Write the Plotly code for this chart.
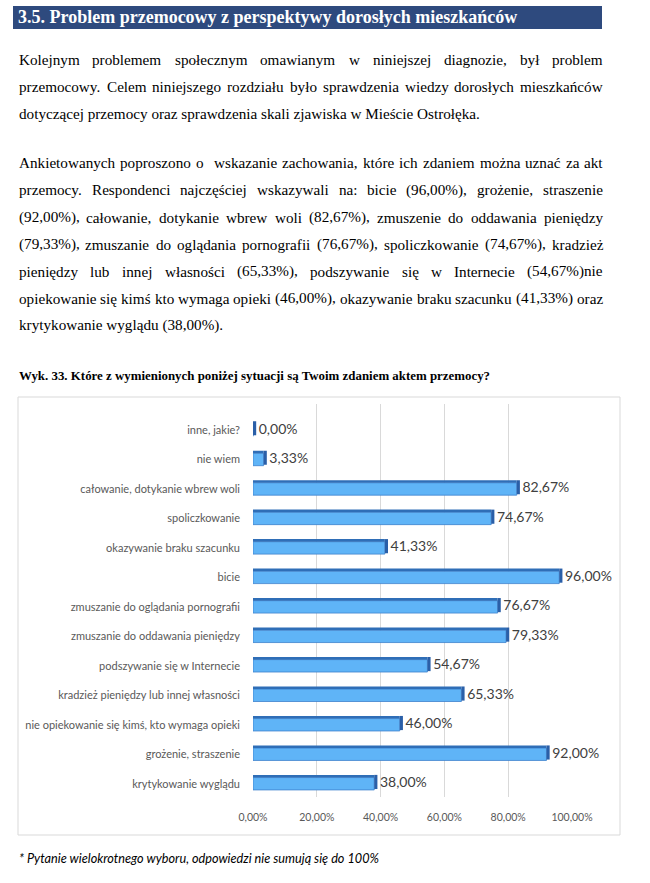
import plotly.graph_objects as go

W, H = 650, 883

# ---------------- data ----------------
categories = [
    "inne, jakie?",
    "nie wiem",
    "całowanie, dotykanie wbrew woli",
    "spoliczkowanie",
    "okazywanie braku szacunku",
    "bicie",
    "zmuszanie do oglądania pornografii",
    "zmuszanie do oddawania pieniędzy",
    "podszywanie się w Internecie",
    "kradzież pieniędzy lub innej własności",
    "nie opiekowanie się kimś, kto wymaga opieki",
    "grożenie, straszenie",
    "krytykowanie wyglądu",
]
values = [0.00, 3.33, 82.67, 74.67, 41.33, 96.00, 76.67, 79.33, 54.67, 65.33, 46.00, 92.00, 38.00]
tick_values = [0, 20, 40, 60, 80, 100]
tick_labels = ["0,00%", "20,00%", "40,00%", "60,00%", "80,00%", "100,00%"]

heading = "3.5. Problem przemocowy z perspektywy dorosłych mieszkańców"
para1 = [
    "Kolejnym problemem społecznym omawianym w niniejszej diagnozie, był problem",
    "przemocowy. Celem niniejszego rozdziału było sprawdzenia wiedzy dorosłych mieszkańców",
    "dotyczącej przemocy oraz sprawdzenia skali zjawiska w Mieście Ostrołęka.",
]
para2 = [
    "Ankietowanych poproszono o  wskazanie zachowania, które ich zdaniem można uznać za akt",
    "przemocy. Respondenci najczęściej wskazywali na: bicie (96,00%), grożenie, straszenie",
    "(92,00%), całowanie, dotykanie wbrew woli (82,67%), zmuszenie do oddawania pieniędzy",
    "(79,33%), zmuszanie do oglądania pornografii (76,67%), spoliczkowanie (74,67%), kradzież",
    "pieniędzy lub innej własności (65,33%), podszywanie się w Internecie (54,67%)nie",
    "opiekowanie się kimś kto wymaga opieki (46,00%), okazywanie braku szacunku (41,33%) oraz",
    "krytykowanie wyglądu (38,00%).",
]
chart_title = "Wyk. 33. Które z wymienionych poniżej sytuacji są Twoim zdaniem aktem przemocy?"
footnote = "* Pytanie wielokrotnego wyboru, odpowiedzi nie sumują się do 100%"

value_labels = [f"{v:.2f}".replace(".", ",") + "%" for v in values]

# ---------------- helpers ----------------
def px(x):
    return x / W


def py(y):
    return 1 - y / H


TIMES = {
    " ": 250, "%": 833, "(": 333, ")": 333, ",": 250, ".": 250, ":": 278,
    "a": 444, "b": 500, "c": 444, "d": 500, "e": 444, "f": 333, "g": 500, "h": 500,
    "i": 278, "j": 278, "k": 500, "l": 278, "m": 778, "n": 500, "o": 500, "p": 500,
    "q": 500, "r": 333, "s": 389, "t": 278, "u": 500, "v": 500, "w": 722, "x": 500,
    "y": 500, "z": 444, "ą": 444, "ć": 444, "ę": 444, "ł": 278, "ń": 500, "ó": 500,
    "ś": 389, "ź": 444, "ż": 444,
    "A": 722, "B": 667, "C": 667, "D": 722, "E": 611, "F": 556, "G": 722, "H": 722,
    "I": 333, "J": 389, "K": 722, "L": 611, "M": 889, "N": 722, "O": 722, "P": 556,
    "R": 667, "S": 556, "T": 611, "W": 944, "Z": 611,
}


def text_width(s, size):
    return sum(TIMES.get(ch, 500) for ch in s) / 1000.0 * size


SERIF = "Liberation Serif, Times New Roman, serif"
BODY_FONT = dict(family=SERIF, size=15.2, color="#000000")
annotations = []


def add_line(line, y, x0=17.5, x1=602.0, justify=True):
    if not justify:
        annotations.append(dict(text=line, x=px(x0), y=py(y), xref="paper", yref="paper",
                                xanchor="left", yanchor="middle", showarrow=False,
                                borderpad=0, font=BODY_FONT))
        return
    words = line.split(" ")
    widths = [text_width(w, BODY_FONT["size"]) for w in words]
    gap = (x1 - x0 - sum(widths)) / (len(words) - 1)
    x = x0
    for w, wd in zip(words, widths):
        if w:
            annotations.append(dict(text=w, x=px(x), y=py(y), xref="paper", yref="paper",
                                    xanchor="left", yanchor="middle", showarrow=False,
                                    borderpad=0, font=BODY_FONT))
        x += wd + gap


for i, line in enumerate(para1):
    add_line(line, 60 + 26.8 * i, justify=(i < len(para1) - 1))
for i, line in enumerate(para2):
    add_line(line, 163 + 27 * i, justify=(i < len(para2) - 1))

# heading text
annotations.append(dict(text="<b>" + heading + "</b>", x=px(17), y=py(17.5), xref="paper", yref="paper",
                        xanchor="left", yanchor="middle", showarrow=False, borderpad=0,
                        font=dict(family=SERIF, size=18, color="#FFFFFF")))
# chart title
annotations.append(dict(text="<b>" + chart_title + "</b>", x=px(17.5), y=py(376), xref="paper", yref="paper",
                        xanchor="left", yanchor="middle", showarrow=False, borderpad=0,
                        font=dict(family=SERIF, size=12.9, color="#000000")))
# footnote
annotations.append(dict(text="<i>" + footnote + "</i>", x=px(17.5), y=py(858), xref="paper", yref="paper",
                        xanchor="left", yanchor="middle", showarrow=False, borderpad=0,
                        font=dict(family="Lato", size=12.7, color="#000000")))

# ---------------- bars ----------------
n = len(values)
cap = 1.0
face = go.Bar(y=categories, x=values, orientation="h", width=0.42, offset=-0.21,
              marker=dict(color="#5FB4F7", line=dict(color="#3D82CD", width=0.8)),
              hoverinfo="skip")
top = go.Bar(y=categories, x=values, orientation="h", width=0.09, offset=-0.30,
             marker=dict(color="#2F6EB7", line=dict(width=0)), hoverinfo="skip")
right_cap = go.Bar(y=categories, x=[cap] * n, base=values, orientation="h", width=0.48, offset=-0.30,
                   marker=dict(color="#2A5FA8", line=dict(width=0)), hoverinfo="skip")
labels = go.Scatter(y=categories, x=[v + cap + 0.8 for v in values], mode="text", text=value_labels,
                    textposition="middle right", cliponaxis=False,
                    textfont=dict(family="Lato", size=14, color="#404040"), hoverinfo="skip")

fig = go.Figure([face, top, right_cap, labels])

fig.update_layout(
    width=W, height=H,
    margin=dict(l=0, r=0, t=0, b=0, pad=0, autoexpand=False),
    paper_bgcolor="#FFFFFF", plot_bgcolor="#FFFFFF",
    showlegend=False, barmode="overlay",
    annotations=annotations,
    shapes=[
        dict(type="rect", xref="paper", yref="paper", x0=px(13), x1=px(602), y0=py(29), y1=py(6),
             fillcolor="#2E4A7E", line=dict(width=0), layer="below"),
        dict(type="rect", xref="paper", yref="paper", x0=px(18), x1=px(620), y0=py(835), y1=py(397),
             fillcolor="rgba(0,0,0,0)", line=dict(color="#D9D9D9", width=1), layer="below"),
    ],
    xaxis=dict(domain=[px(253), px(572)], range=[0, 100], tickvals=tick_values, ticktext=tick_labels,
               showgrid=True, gridcolor="#D9D9D9", gridwidth=1, zeroline=False, showline=False,
               ticks="", ticklabelstandoff=12, fixedrange=True, automargin=False,
               tickfont=dict(family="Lato", size=10.5, color="#595959")),
    yaxis=dict(domain=[py(797), py(403.5)], range=[12.45, -0.9], type="category",
               categoryorder="array", categoryarray=categories, automargin=False,
               showgrid=False, zeroline=False, showline=False, ticks="", ticklabelstandoff=12,
               fixedrange=True, tickfont=dict(family="Lato", size=11, color="#595959")),
)

fig.write_html("out.html", config={"displayModeBar": False},
               post_script="document.body.style.margin='0';")
